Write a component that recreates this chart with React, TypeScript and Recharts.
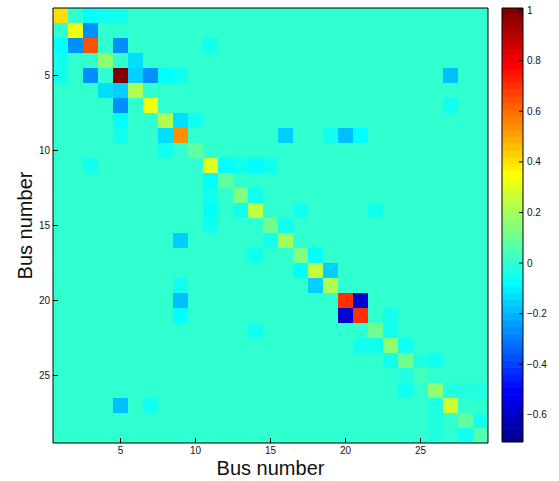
import React from 'react';
import { ScatterChart, Scatter, XAxis, YAxis, Label } from 'recharts';

// bus numbers on both axes
const buses = [
	1, 2, 3, 4, 5, 6, 7, 8, 9, 10, 11, 12, 13, 14, 15, 16, 17, 18, 19, 20, 21, 22, 23, 24, 25, 26, 27, 28, 29,
];
const axisTicks = [5, 10, 15, 20, 25];
const colorbarTicks = [-0.6, -0.4, -0.2, 0, 0.2, 0.4, 0.6, 0.8, 1];

// diagonal entries, bus 1..29
const diagonal = [
	0.4, 0.32, 0.64, 0.16, 1.0, 0.22, 0.33, 0.22, 0.53, 0.08, 0.3, 0.08, 0.14, 0.24, 0.11, 0.19, 0.14, 0.24, 0.22,
	0.69, 0.69, 0.11, 0.16, 0.11, 0.03, 0.16, 0.27, 0.08, 0.06,
];

// off-diagonal entries [bus i, bus j, value], matrix is symmetric
const couplings: [number, number, number][] = [
	[1, 3, -0.07],
	[1, 4, -0.05],
	[1, 5, -0.05],
	[2, 3, -0.26],
	[3, 5, -0.26],
	[3, 11, -0.05],
	[4, 6, -0.13],
	[5, 6, -0.155],
	[5, 7, -0.26],
	[5, 8, -0.07],
	[5, 9, -0.05],
	[5, 27, -0.18],
	[7, 27, -0.05],
	[8, 9, -0.13],
	[8, 10, -0.05],
	[9, 16, -0.155],
	[9, 19, -0.05],
	[9, 20, -0.18],
	[9, 21, -0.07],
	[11, 12, -0.07],
	[11, 13, -0.05],
	[11, 14, -0.07],
	[11, 15, -0.05],
	[13, 14, -0.05],
	[14, 17, -0.05],
	[14, 22, -0.05],
	[15, 16, -0.05],
	[17, 18, -0.07],
	[18, 19, -0.155],
	[20, 21, -0.58],
	[21, 23, -0.06],
	[22, 23, -0.06],
	[23, 24, -0.05],
	[24, 25, -0.02],
	[24, 26, -0.06],
	[26, 27, -0.02],
	[26, 28, -0.02],
	[26, 29, -0.02],
	[28, 29, -0.05],
];

const V_MIN = -0.707;
const V_MAX = 1.008;
const LEVELS = 64;
const FONT = '"Liberation Sans", Arial, Helvetica, sans-serif';
const CELL = 15;
const BAR_H = 434 / LEVELS;

// matlab jet(64)
const u = (j: number) => (j <= 0 ? 0 : j <= 16 ? j / 16 : j <= 32 ? 1 : j <= 47 ? (48 - j) / 16 : 0);
const jetRGB = (k: number) => {
	const K = k + 1;
	const r = K >= 25 ? u(K - 24) : 0;
	const g = K >= 9 && K <= 55 ? u(K - 8) : 0;
	const b = K <= 39 ? u(K + 8) : 0;
	const h = (x: number) => Math.round(x * 255).toString(16).padStart(2, '0');
	return `#${h(r)}${h(g)}${h(b)}`;
};
const jetColor = (v: number) => {
	const k = Math.floor(((v - V_MIN) / (V_MAX - V_MIN)) * LEVELS);
	return jetRGB(Math.min(LEVELS - 1, Math.max(0, k)));
};

const valueAt = (r: number, c: number) => {
	if (r === c) return diagonal[r - 1];
	const hit = couplings.find(([i, j]) => (i === r && j === c) || (i === c && j === r));
	return hit ? hit[2] : 0;
};

const cells = buses.flatMap((row) => buses.map((col) => ({ row, col, value: valueAt(row, col) })));

const levels = Array.from({ length: LEVELS }, (_, k) => ({
	x: 0.5,
	y: V_MIN + ((k + 0.5) * (V_MAX - V_MIN)) / LEVELS,
	k,
}));

const HeatCell = (props: any) => {
	const { cx, cy, payload } = props;
	return <rect x={cx - CELL / 2} y={cy - CELL / 2} width={CELL} height={CELL} fill={jetColor(payload.value)} />;
};

const BarCell = (props: any) => {
	const { cx, cy, payload } = props;
	return <rect x={cx - 10.5} y={cy - BAR_H / 2 - 0.3} width={21} height={BAR_H + 0.6} fill={jetRGB(payload.k)} />;
};

const Nothing = () => <g />;

const XLabel = (props: any) => {
	const vb = props.viewBox;
	return (
		<text x={vb.x + vb.width / 2} y={475} textAnchor='middle' fontSize={20} fontFamily={FONT} fill='#111'>
			Bus number
		</text>
	);
};

const YLabel = (props: any) => {
	const vb = props.viewBox;
	const cy = vb.y + vb.height / 2;
	return (
		<text x={32} y={cy} transform={`rotate(-90, 32, ${cy})`} textAnchor='middle' fontSize={20} fontFamily={FONT} fill='#111'>
			Bus number
		</text>
	);
};

const tickStyle = { fill: '#111', fontSize: 10, fontFamily: FONT };
const line = { stroke: '#000', strokeWidth: 1 };
const fmt = (v: number) => String(v).replace('-', '\u2212');
const layer: React.CSSProperties = { position: 'absolute', left: 0, top: 0 };

const App: React.FC = () => {
	return (
		<div style={{ position: 'absolute', left: 0, top: 0, width: 559, height: 481, background: '#fff' }}>
			{/* heat map cells */}
			<div style={layer}>
				<ScatterChart width={559} height={481} margin={{ top: 8, right: 71, bottom: 38, left: 53 }}>
					<XAxis hide type='number' dataKey='col' domain={[0.5, 29.5]} allowDataOverflow />
					<YAxis hide type='number' dataKey='row' reversed domain={[0.5, 29.5]} allowDataOverflow />
					<Scatter data={cells} shape={HeatCell} isAnimationActive={false} />
				</ScatterChart>
			</div>
			{/* colorbar cells */}
			<div style={layer}>
				<ScatterChart width={559} height={481} margin={{ top: 8, right: 36, bottom: 39, left: 502 }}>
					<XAxis hide type='number' dataKey='x' domain={[0, 1]} />
					<YAxis hide type='number' dataKey='y' domain={[V_MIN, V_MAX]} allowDataOverflow />
					<Scatter data={levels} shape={BarCell} isAnimationActive={false} />
				</ScatterChart>
			</div>
			{/* axes box, ticks and labels on top */}
			<div style={layer}>
				<ScatterChart width={559} height={481} margin={{ top: 7, right: 70, bottom: 0, left: 0 }}>
					<XAxis
						type='number'
						dataKey='col'
						domain={[0.5, 29.5]}
						ticks={axisTicks}
						interval={0}
						allowDataOverflow
						height={38}
						tickSize={-5}
						tickMargin={9}
						axisLine={line}
						tickLine={line}
						tick={tickStyle}
					>
						<Label content={XLabel} />
					</XAxis>
					<XAxis
						xAxisId='top'
						orientation='top'
						type='number'
						domain={[0.5, 29.5]}
						ticks={axisTicks}
						interval={0}
						allowDataOverflow
						height={1}
						tickSize={-5}
						axisLine={line}
						tickLine={line}
						tick={false}
					/>
					<YAxis
						type='number'
						dataKey='row'
						reversed
						domain={[0.5, 29.5]}
						ticks={axisTicks}
						interval={0}
						allowDataOverflow
						width={53}
						tickSize={-5}
						tickMargin={8}
						axisLine={line}
						tickLine={line}
						tick={tickStyle}
					>
						<Label content={YLabel} />
					</YAxis>
					<YAxis
						yAxisId='right'
						orientation='right'
						type='number'
						reversed
						domain={[0.5, 29.5]}
						ticks={axisTicks}
						interval={0}
						allowDataOverflow
						width={1}
						tickSize={-5}
						axisLine={line}
						tickLine={line}
						tick={false}
					/>
					<Scatter data={cells} shape={Nothing} isAnimationActive={false} />
				</ScatterChart>
			</div>
			<div style={layer}>
				<ScatterChart width={559} height={481} margin={{ top: 7, right: 0, bottom: 0, left: 501 }}>
					<XAxis type='number' dataKey='x' domain={[0, 1]} height={39} axisLine={line} tick={false} tickLine={false} />
					<XAxis
						xAxisId='top'
						orientation='top'
						type='number'
						domain={[0, 1]}
						height={1}
						axisLine={line}
						tick={false}
						tickLine={false}
					/>
					<YAxis
						type='number'
						dataKey='y'
						orientation='right'
						domain={[V_MIN, V_MAX]}
						ticks={colorbarTicks}
						interval={0}
						allowDataOverflow
						width={36}
						tickSize={-4}
						tickMargin={8}
						axisLine={line}
						tickLine={line}
						tick={{ ...tickStyle, textAnchor: 'start' }}
						tickFormatter={fmt}
					/>
					<YAxis
						yAxisId='left'
						orientation='left'
						type='number'
						domain={[V_MIN, V_MAX]}
						ticks={colorbarTicks}
						interval={0}
						allowDataOverflow
						width={1}
						tickSize={-4}
						axisLine={line}
						tickLine={line}
						tick={false}
					/>
					<Scatter data={levels} shape={Nothing} isAnimationActive={false} />
				</ScatterChart>
			</div>
		</div>
	);
};

export default App;
